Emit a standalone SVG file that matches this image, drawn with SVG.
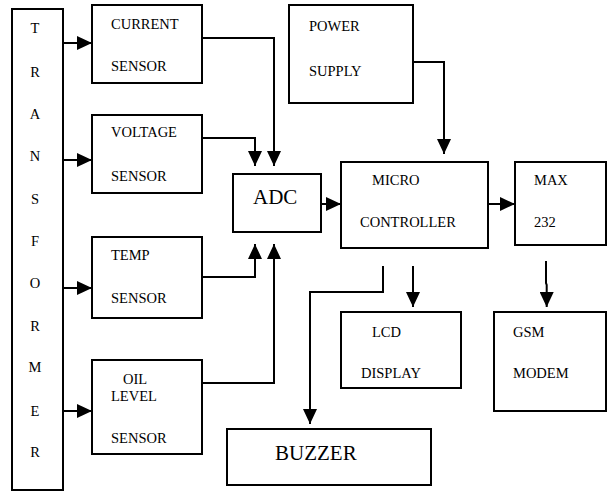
<svg xmlns="http://www.w3.org/2000/svg" width="607" height="493" viewBox="0 0 607 493">
<style>
.box{fill:#fff;stroke:#000;stroke-width:2}
.t{font-family:'Liberation Serif','Times New Roman',serif;font-size:14.5px;fill:#000}
.big{font-size:21px}
.m{text-anchor:middle}
.c{fill:none;stroke:#000;stroke-width:2}
</style>
<defs>
<marker id="ah" viewBox="0 0 15 14" refX="15" refY="7" markerWidth="15" markerHeight="14" markerUnits="userSpaceOnUse" orient="auto">
<path d="M0,0 L15,7 L0,14 Z" fill="#000"/>
</marker>
</defs>
<rect width="607" height="493" fill="#fff"/>
<g id="transformer">
<rect class="box" x="12" y="9" width="51" height="481"/>
<text class="t m" x="35" y="33">T</text>
<text class="t m" x="35" y="77">R</text>
<text class="t m" x="35" y="119">A</text>
<text class="t m" x="35" y="161">N</text>
<text class="t m" x="35" y="204">S</text>
<text class="t m" x="35" y="246">F</text>
<text class="t m" x="35" y="288">O</text>
<text class="t m" x="35" y="331">R</text>
<text class="t m" x="35" y="372">M</text>
<text class="t m" x="35" y="416">E</text>
<text class="t m" x="35" y="457">R</text>
</g>
<g id="current-sensor">
<rect class="box" x="92" y="5" width="110" height="78"/>
<text class="t" x="111" y="29">CURRENT</text>
<text class="t" x="111" y="71">SENSOR</text>
</g>
<g id="voltage-sensor">
<rect class="box" x="92" y="115" width="110" height="78"/>
<text class="t" x="111" y="137">VOLTAGE</text>
<text class="t" x="111" y="181">SENSOR</text>
</g>
<g id="temp-sensor">
<rect class="box" x="92" y="237" width="110" height="81"/>
<text class="t" x="111" y="260">TEMP</text>
<text class="t" x="111" y="303">SENSOR</text>
</g>
<g id="oil-level-sensor">
<rect class="box" x="92" y="360" width="110" height="94"/>
<text class="t" x="123" y="384">OIL</text>
<text class="t" x="111" y="401">LEVEL</text>
<text class="t" x="111" y="443">SENSOR</text>
</g>
<g id="adc">
<rect class="box" x="233" y="174" width="88" height="58"/>
<text class="t big" x="253" y="204">ADC</text>
</g>
<g id="power-supply">
<rect class="box" x="289" y="5" width="124" height="98"/>
<text class="t" x="309" y="31">POWER</text>
<text class="t" x="309" y="76">SUPPLY</text>
</g>
<g id="microcontroller">
<rect class="box" x="341" y="162" width="147" height="86"/>
<text class="t" x="372" y="185">MICRO</text>
<text class="t" x="360" y="227">CONTROLLER</text>
</g>
<g id="max232">
<rect class="box" x="515" y="162" width="91" height="83"/>
<text class="t" x="534" y="185">MAX</text>
<text class="t" x="534" y="227">232</text>
</g>
<g id="lcd-display">
<rect class="box" x="341" y="312" width="120" height="76"/>
<text class="t" x="372" y="337">LCD</text>
<text class="t" x="361" y="378">DISPLAY</text>
</g>
<g id="gsm-modem">
<rect class="box" x="494" y="312" width="112" height="99"/>
<text class="t" x="513" y="337">GSM</text>
<text class="t" x="513" y="378">MODEM</text>
</g>
<g id="buzzer">
<rect class="box" x="227" y="429" width="204" height="56"/>
<text class="t big" x="275" y="460">BUZZER</text>
</g>
<g id="connectors">
<path class="c" d="M63,43 H92" marker-end="url(#ah)"/>
<path class="c" d="M63,160 H92" marker-end="url(#ah)"/>
<path class="c" d="M63,288 H92" marker-end="url(#ah)"/>
<path class="c" d="M63,411 H92" marker-end="url(#ah)"/>
<path class="c" d="M202,38 H274 V166" marker-end="url(#ah)"/>
<path class="c" d="M202,138 H255 V166" marker-end="url(#ah)"/>
<path class="c" d="M202,277 H255 V244" marker-end="url(#ah)"/>
<path class="c" d="M202,383 H274 V244" marker-end="url(#ah)"/>
<path class="c" d="M321,204 H341" marker-end="url(#ah)"/>
<path class="c" d="M413,62 H444 V154" marker-end="url(#ah)"/>
<path class="c" d="M488,204 H515" marker-end="url(#ah)"/>
<path class="c" d="M383,266 V292 H310 V424" marker-end="url(#ah)"/>
<path class="c" d="M413,266 V307" marker-end="url(#ah)"/>
<path class="c" d="M546,261 V283 L546.7,285 V307" marker-end="url(#ah)"/>
</g>
</svg>
